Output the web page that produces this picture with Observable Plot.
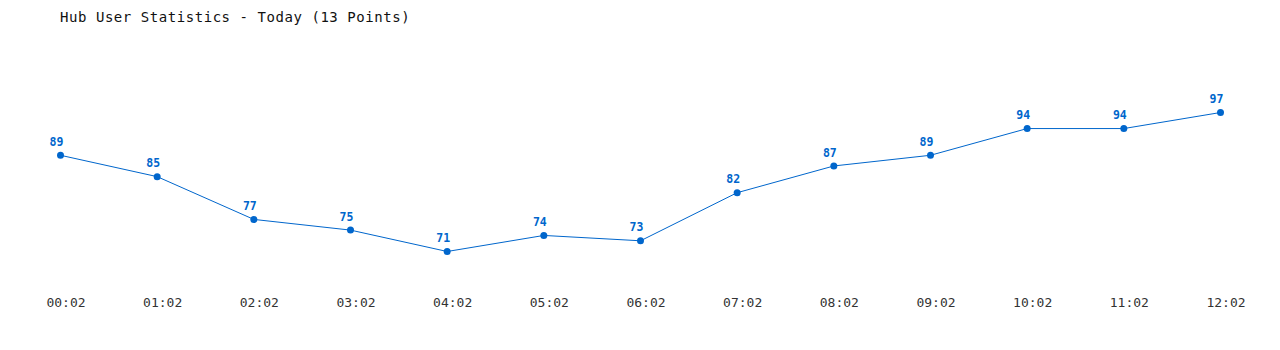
<!DOCTYPE html>
<html>
<head>
<meta charset="utf-8">
<script src="https://cdn.jsdelivr.net/npm/d3@7"></script>
<script src="https://cdn.jsdelivr.net/npm/@observablehq/plot@0.6"></script>
<style>
  html, body { margin: 0; padding: 0; background: #fff; overflow: hidden; }
  #wrap { position: relative; width: 1280px; height: 350px; }
  #chart svg { display: block; max-width: none !important; }
  #title { position: absolute; left: 60px; top: 9px; font-family: "DejaVu Sans Mono", monospace; font-size: 14px; letter-spacing: 0.55px; color: #111; z-index: 1; }
</style>
</head>
<body>
<div id="wrap">
  <div id="title">Hub User Statistics - Today (13 Points)</div>
  <div id="chart"></div>
</div>
<script>
const times = ["00:02","01:02","02:02","03:02","04:02","05:02","06:02","07:02","08:02","09:02","10:02","11:02","12:02"];
const users = [89, 85, 77, 75, 71, 74, 73, 82, 87, 89, 94, 94, 97];

const data = times.map((t, i) => ({time: t, users: users[i]}));
const blue = "#0066cc";

const chart = Plot.plot({
  width: 1280,
  height: 350,
  marginLeft: 60,
  marginRight: 60,
  marginTop: 74.6,
  marginBottom: 61.6,
  style: {fontFamily: "DejaVu Sans Mono, monospace", background: "#fff"},
  x: {type: "point", domain: times, padding: 0, round: false, label: null},
  y: {domain: [64, 104], axis: null},
  marks: [
    Plot.axisX({tickSize: 0, tickPadding: 9, dx: 5.5, fontSize: 13, color: "#333", label: null}),
    Plot.line(data, {x: "time", y: "users", stroke: blue, strokeWidth: 1}),
    Plot.dot(data, {x: "time", y: "users", r: 3.5, fill: blue}),
    Plot.text(data, {x: "time", y: "users", text: d => String(d.users), dy: -13, dx: -4, fill: blue, fontSize: 11.5, fontWeight: "bold"})
  ]
});
document.getElementById("chart").appendChild(chart);
</script>
</body>
</html>
